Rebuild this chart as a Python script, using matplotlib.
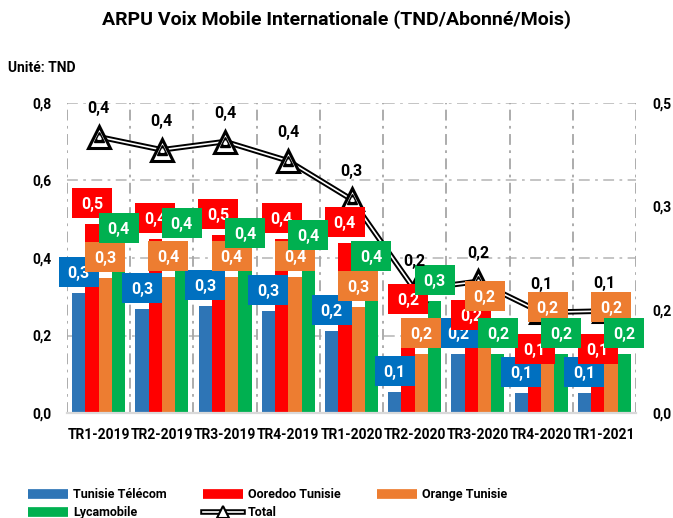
import numpy as np
import matplotlib.pyplot as plt
from matplotlib.lines import Line2D
from matplotlib.patches import Rectangle
from matplotlib.ticker import FuncFormatter
from matplotlib.transforms import Affine2D, ScaledTranslation

periods = ['TR1-2019', 'TR2-2019', 'TR3-2019', 'TR4-2019', 'TR1-2020',
           'TR2-2020', 'TR3-2020', 'TR4-2020', 'TR1-2021']
tunisie_telecom = [0.31, 0.268, 0.276, 0.263, 0.212, 0.055, 0.152, 0.052, 0.052]
ooredoo = [0.488, 0.449, 0.46, 0.449, 0.439, 0.24, 0.20, 0.11, 0.11]
orange = [0.348, 0.352, 0.352, 0.351, 0.274, 0.152, 0.249, 0.22, 0.22]
lycamobile = [0.423, 0.435, 0.41, 0.405, 0.352, 0.29, 0.152, 0.152, 0.152]
total = [0.401, 0.382, 0.394, 0.366, 0.310, 0.179, 0.191, 0.146, 0.148]

series_names = ['Tunisie Télécom', 'Ooredoo Tunisie', 'Orange Tunisie', 'Lycamobile']
bar_colors = ['#2E75B6', '#FF0000', '#ED7D31', '#00B050']
label_colors = ['#0070C0', '#FF0000', '#ED7D31', '#00B050']


def fmt(v):
    # excel style rounding (half up), comma decimal
    return f"{v + 1e-9:.1f}".replace('.', ',')


plt.rcParams['font.family'] = ['Roboto', 'DejaVu Sans']
plt.rcParams['font.weight'] = 'bold'

fig = plt.figure(figsize=(6.73, 5.18), dpi=100)
ax = fig.add_axes([67/673, 105/518, 569/673, 310/518])

x = np.arange(len(periods))
width = 0.21
offsets = [-1.5, -0.5, 0.5, 1.5]
all_series = [tunisie_telecom, ooredoo, orange, lycamobile]
for vals, c, o in zip(all_series, bar_colors, offsets):
    ax.bar(x + o * width, vals, width, color=c, zorder=2)

ax.set_xlim(-0.5, len(periods) - 0.5)
ax.set_ylim(0, 0.8)
ax.set_yticks(np.arange(0, 0.81, 0.2))
ax.yaxis.set_major_formatter(FuncFormatter(lambda v, p: fmt(v)))
ax.set_xticks(x)
ax.set_xticklabels(periods)
ax.tick_params(axis='y', length=0, labelsize=10, pad=11)
ax.tick_params(axis='x', length=0, labelsize=10, pad=11)

for yv in [0.2, 0.4, 0.6, 0.8]:
    ax.axhline(yv, color='#BFBFBF', lw=1.3, dashes=(6, 3, 1.5, 3), zorder=0)
for b in np.arange(-0.5, len(periods)):
    ax.axvline(b, color='#A6A6A6', lw=1.3, dashes=(6, 3, 1.5, 3), zorder=0)

for s in ['top', 'left', 'right']:
    ax.spines[s].set_visible(False)
ax.spines['bottom'].set_color('#D9D9D9')
ax.spines['bottom'].set_linewidth(1.6)

ax2 = ax.twinx()
ax2.set_ylim(0, 0.45)
ax2.set_yticks([0, 0.15, 0.3, 0.45])
ax2.yaxis.set_major_formatter(FuncFormatter(lambda v, p: fmt(v)))
ax2.tick_params(axis='y', length=0, labelsize=10, pad=12)
for s in ax2.spines.values():
    s.set_visible(False)

# total line (double line with triangle markers)
ax2.plot(x, total, color='black', lw=4, zorder=3, solid_joinstyle='round')
ax2.plot(x, total, color='white', lw=1.2, zorder=3.1)
ax2.plot(x, total, ls='none', marker='^', ms=16, mfc='white', mec='black', mew=2.2, zorder=3.2)
ax2.plot(x, total, ls='none', marker='^', ms=7.5, mfc='black', mec='black', zorder=3.3)
ax2.plot(x, total, ls='none', marker='^', ms=2.5, mfc='white', mec='white', zorder=3.4)

# bar labels: 40x30 px boxes a bit above the bar tops
box_w, box_h, lift = 40, 30, 21
for i, (vals, o) in enumerate(zip(all_series, offsets)):
    for j, v in enumerate(vals):
        xd = x[j] + o * width
        tr = Affine2D() + ScaledTranslation(xd, v, ax.transData)
        ax2.add_patch(Rectangle((-box_w / 2, lift - box_h / 2), box_w, box_h,
                                transform=tr, fc=label_colors[i], ec='none',
                                zorder=4 + i * 0.1, clip_on=False))
        ax2.annotate(fmt(v), xy=(xd, v), xycoords=ax.transData,
                     xytext=(0, lift), textcoords='offset pixels',
                     ha='center', va='center_baseline', color='white',
                     fontsize=11.5, fontweight='bold', zorder=4.05 + i * 0.1)

for j, t in enumerate(total):
    ax2.annotate(fmt(t), xy=(x[j], t), xytext=(0, 28), textcoords='offset pixels',
                 ha='center', va='center', color='black', fontsize=11.5,
                 fontweight='bold', zorder=5)

fig.text(336/673, 1 - 20/518, 'ARPU Voix Mobile Internationale (TND/Abonné/Mois)',
         ha='center', va='center', fontsize=14, fontweight='bold')
fig.text(8/673, 1 - 68/518, 'Unité: TND', ha='left', va='center', fontsize=10, fontweight='bold')

handles = [Line2D([0], [0], color=c, lw=7, solid_capstyle='butt') for c in bar_colors]
total_handle = (Line2D([0], [0], color='black', lw=4),
                Line2D([0], [0], color='white', lw=1.2, marker='^', ms=9,
                       mfc='white', mec='black', mew=1.5))
leg_handles = [handles[0], handles[3], handles[1], total_handle, handles[2]]
leg_labels = [series_names[0], series_names[3], series_names[1], 'Total', series_names[2]]
fig.legend(leg_handles, leg_labels, loc='upper left', bbox_to_anchor=(28/673, 1 - 488/518),
           ncol=3, frameon=False, fontsize=9, handlelength=3.2, handletextpad=0.4,
           labelspacing=0.4, columnspacing=2.9, borderpad=0, borderaxespad=0)

fig.savefig('out.png', dpi=100)
